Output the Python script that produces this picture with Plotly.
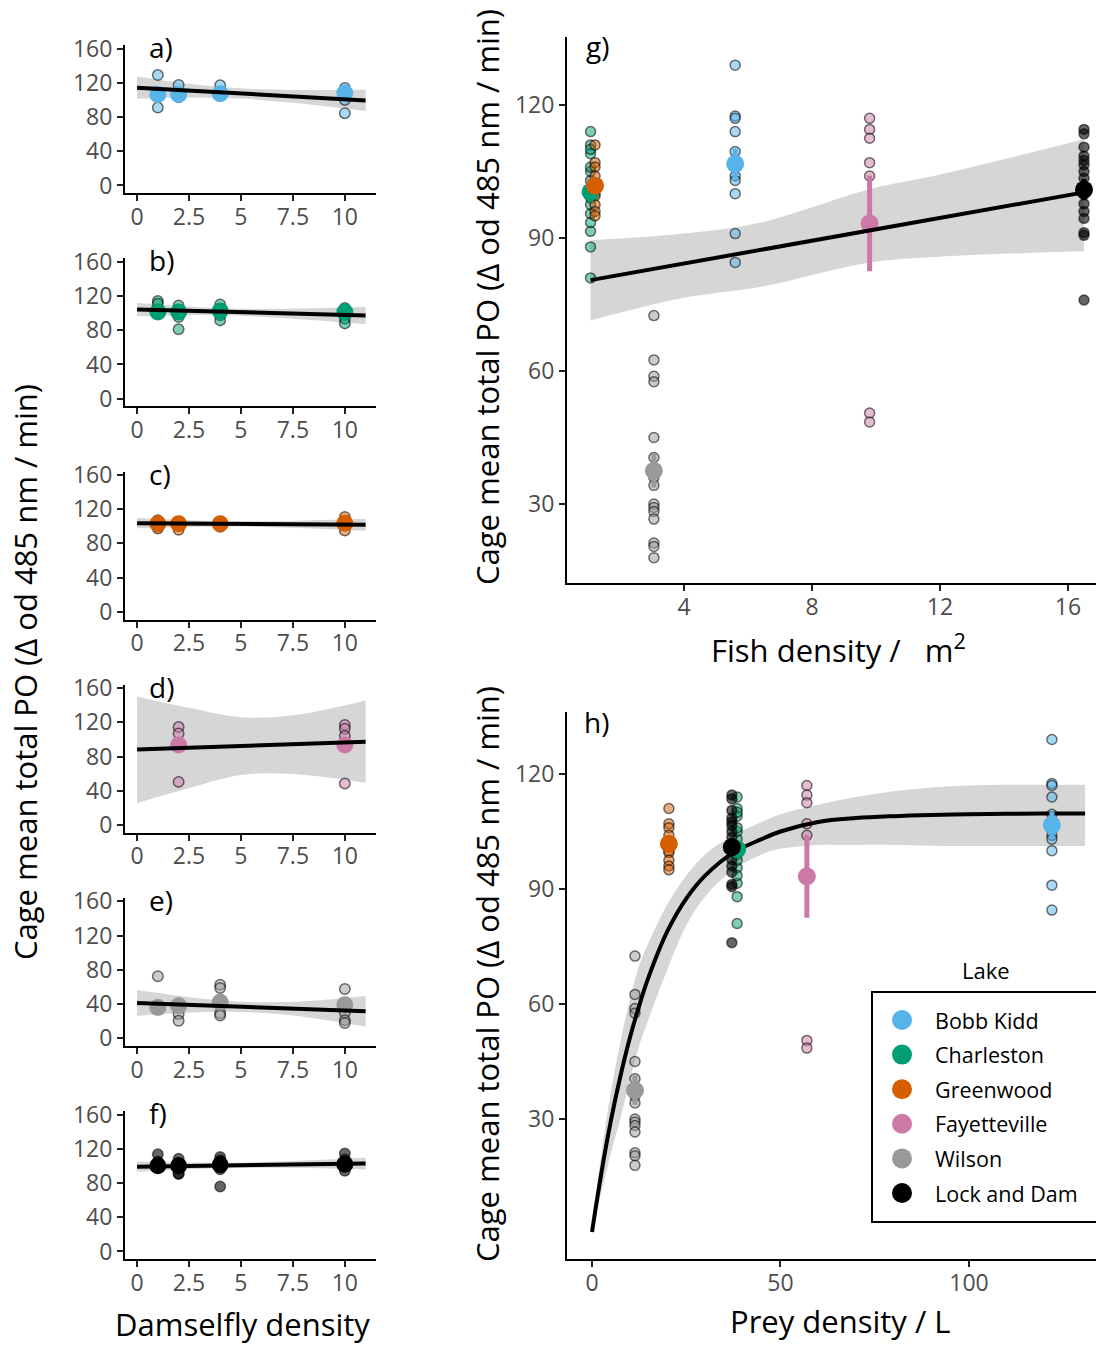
import plotly.graph_objects as go

W, H = 1096, 1346
FONT = "Open Sans"

# ---------------------------------------------------------------- data
LAKES = ["Bobb Kidd", "Charleston", "Greenwood", "Fayetteville", "Wilson", "Lock and Dam"]
LAKE_COLORS = ["#56B4E9", "#009E73", "#D55E00", "#CC79A7", "#999999", "#000000"]

# cage-level PO activity and damselfly density of each cage, per lake
bobb_po = [129, 117.5, 117, 114, 109.5, 106, 104, 103, 100, 91, 84.5]
bobb_dens = [1, 2, 4, 10, 4, 1, 2, 2, 10, 1, 10]
charleston_po = [114, 111, 103, 101, 109, 99, 95.5, 81, 110, 105, 97.5, 91.5, 106, 93.5, 88]
charleston_dens = [1, 1, 1, 1, 2, 2, 2, 2, 4, 4, 4, 4, 10, 10, 10]
greenwood_po = [111, 107, 106, 104, 102, 100, 99.5, 97.5, 96, 95]
greenwood_dens = [10, 1, 10, 4, 2, 1, 4, 1, 2, 10]
fayetteville_po = [117, 114.5, 112.5, 107, 104, 50.5, 48.5]
fayetteville_dens = [10, 2, 10, 2, 10, 2, 10]
wilson_po = [72.5, 62.5, 58.8, 57.6, 45, 40.5, 36, 34.2, 30, 29.2, 28.3, 26.6, 21.2, 20.4, 17.9]
wilson_dens = [1, 4, 4, 10, 4, 2, 1, 1, 10, 4, 2, 4, 10, 2, 10]
lockdam_po = [114.5, 113.5, 110.5, 108.5, 107.5, 106.5, 105, 103.5, 101, 99.8, 97.7, 96, 94.4, 91.2, 90.6, 76]
lockdam_dens = [10, 1, 4, 2, 10, 4, 1, 2, 1, 10, 1, 4, 10, 2, 2, 4]

CAGE_PO = [bobb_po, charleston_po, greenwood_po, fayetteville_po, wilson_po, lockdam_po]
CAGE_DENS = [bobb_dens, charleston_dens, greenwood_dens, fayetteville_dens, wilson_dens, lockdam_dens]

# lake-level predictors and summaries
FISH_DENSITY = [5.6, 1.08, 1.22, 9.8, 3.06, 16.5]
PREY_DENSITY = [122, 38.5, 20.4, 57.0, 11.4, 37.1]
LAKE_MEAN = [106.7, 100.4, 101.8, 93.3, 37.5, 100.9]
LAKE_SE = [3.5, 2.2, 1.6, 10.8, 3.8, 2.4]

# damselfly-density panels: treatment means per lake
DENS_LEVELS = [[1, 2, 4, 10], [1, 2, 4, 10], [1, 2, 4, 10], [2, 10], [1, 2, 4, 10], [1, 2, 4, 10]]
DENS_MEANS = [
    [106.4, 106.4, 107.2, 108.0],
    [101.4, 101.4, 102.6, 101.4],
    [102.9, 102.9, 102.9, 103.7],
    [93.7, 93.7],
    [36.1, 38.1, 42.0, 39.3],
    [100.2, 100.2, 101.3, 102.0],
]
# linear fits (x = 0 .. 11) with confidence bands
FIT_X = [0, 11]
FIT_Y = [[114.3, 99.4], [104.2, 97.2], [103.7, 101.7], [88.2, 97.5], [41.3, 31.5], [99.1, 102.9]]
BAND_X = [0, 2.5, 5, 7.5, 11]
BAND_LO = [
    [101.3, 102.9, 101.5, 96.6, 86.9],
    [96.2, 97.6, 97.0, 93.4, 87.2],
    [97.7, 99.2, 99.8, 98.3, 94.7],
    [25.8, 43.0, 58.4, 59.7, 49.5],
    [26.3, 30.1, 30.8, 26.6, 13.5],
    [93.1, 96.0, 97.8, 97.7, 95.9],
]
BAND_HI = [
    [127.3, 118.9, 113.5, 111.6, 111.9],
    [112.2, 107.6, 105.0, 105.4, 107.2],
    [109.7, 107.2, 105.8, 106.3, 108.7],
    [150.3, 137.0, 126.0, 128.3, 145.7],
    [56.3, 48.1, 42.8, 42.6, 49.5],
    [105.1, 104.0, 103.8, 105.7, 109.9],
]
PANEL_TAGS = ["a)", "b)", "c)", "d)", "e)", "f)"]

# fish density fit
FISH_FIT_X = [1.08, 16.5]
FISH_FIT_Y = [80.5, 100.3]
FISH_BAND_X = [1.08, 4, 6.4, 9.8, 12, 16.5]
FISH_BAND_LO = [71.4, 76.5, 79.0, 84.5, 85.8, 87.0]
FISH_BAND_HI = [89.5, 91.0, 93.5, 101.0, 104.3, 112.3]

# prey density saturating fit
PREY_FIT_X = [0, 2.5, 5, 7.5, 10, 12.5, 15, 20, 25, 30, 37.5, 45, 50, 60, 70, 80, 90, 100, 110, 120, 130.8]
PREY_FIT_Y = [0.5, 16, 29.5, 41, 51, 59.5, 67, 79, 87.5, 93.5, 99.5, 103, 105, 107.5, 108.5, 109, 109.3, 109.5, 109.6, 109.7, 109.7]
PREY_BAND_LO = [0, 11, 21, 30, 40, 49, 56, 69, 80.5, 88, 95, 99, 100.5, 101.5, 101.5, 101.5, 101.3, 101.2, 101.2, 101.2, 101.2]
PREY_BAND_HI = [1, 21, 37, 50, 61, 70, 76, 86, 93.5, 99, 104, 107.5, 109.5, 112, 114, 115.5, 116.5, 117, 117.2, 117.2, 117.2]

Y_TITLE = "Cage mean total PO (Δ od 485 nm / min)"

# ---------------------------------------------------------------- helpers
def fx(px):
    return px / W


def fy(py):
    return 1 - py / H


def rgba(hex_color, a):
    h = hex_color.lstrip("#")
    r, g, b = int(h[0:2], 16), int(h[2:4], 16), int(h[4:6], 16)
    return f"rgba({r},{g},{b},{a})"


BAND_FILL = "rgba(153,153,153,0.4)"
TICK_FONT = dict(family=FONT, size=23, color="#4d4d4d")
TITLE_SIZE = 31


def axis_style(**kw):
    base = dict(
        showline=True, linecolor="black", linewidth=2,
        ticks="outside", ticklen=6, tickwidth=2, tickcolor="#222",
        tickfont=TICK_FONT, showgrid=False, zeroline=False, fixedrange=True,
        automargin=False,
    )
    base.update(kw)
    return base


fig = go.Figure()
layout = {}
annotations = []


def add_band(xs, lo, hi, xa, ya, smooth=True):
    shape = "spline" if smooth else "linear"
    fig.add_trace(go.Scatter(x=xs, y=lo, mode="lines", line=dict(width=0, shape=shape),
                             xaxis=xa, yaxis=ya, showlegend=False, hoverinfo="skip"))
    fig.add_trace(go.Scatter(x=xs, y=hi, mode="lines", line=dict(width=0, shape=shape),
                             fill="tonexty", fillcolor=BAND_FILL,
                             xaxis=xa, yaxis=ya, showlegend=False, hoverinfo="skip"))


def cage_marker(color, size):
    alpha = 0.6 if color == "#000000" else 0.5
    return dict(size=size, color=rgba(color, alpha), line=dict(color="rgba(0,0,0,0.55)", width=1.5))


# ---------------------------------------------------------------- damselfly panels a-f
LEFT_X0, LEFT_X1 = 125, 376
for i in range(6):
    n = i + 1
    xa, ya = f"x{n}", f"y{n}"
    zero_px = 185.5 + 213.2 * i
    ppu = 0.856
    top_px = zero_px - 164 * ppu
    bot_px = zero_px + 9 * ppu
    layout[f"xaxis{n}"] = axis_style(
        domain=[fx(LEFT_X0), fx(LEFT_X1)], range=[-0.58, 11.5], anchor=ya,
        tickvals=[0, 2.5, 5, 7.5, 10], ticktext=["0", "2.5", "5", "7.5", "10"],
        ticklabelstandoff=-4,
    )
    layout[f"yaxis{n}"] = axis_style(
        domain=[fy(bot_px), fy(top_px)], range=[-9, 164], anchor=xa,
        tickvals=[0, 40, 80, 120, 160],
    )
    color = LAKE_COLORS[i]
    add_band(BAND_X, BAND_LO[i], BAND_HI[i], xa, ya)
    fig.add_trace(go.Scatter(x=CAGE_DENS[i], y=CAGE_PO[i], mode="markers",
                             marker=cage_marker(color, 10.5), xaxis=xa, yaxis=ya,
                             showlegend=False))
    fig.add_trace(go.Scatter(x=DENS_LEVELS[i], y=DENS_MEANS[i], mode="markers",
                             marker=dict(size=17, color=color), xaxis=xa, yaxis=ya,
                             showlegend=False))
    fig.add_trace(go.Scatter(x=FIT_X, y=FIT_Y[i], mode="lines",
                             line=dict(color="black", width=4), xaxis=xa, yaxis=ya,
                             showlegend=False))
    annotations.append(dict(text=PANEL_TAGS[i], x=fx(147), y=fy(top_px + 2), xref="paper", yref="paper",
                            xanchor="left", yanchor="middle", showarrow=False,
                            font=dict(family=FONT, size=28, color="black")))

# ---------------------------------------------------------------- g) fish density
layout["xaxis7"] = axis_style(domain=[fx(567), fx(1096)], range=[0.344, 16.875], anchor="y7",
                              tickvals=[4, 8, 12, 16], ticklabelstandoff=-4)
layout["yaxis7"] = axis_style(domain=[fy(582.9), fy(37.2)], range=[12.2, 135.3], anchor="x7",
                              tickvals=[30, 60, 90, 120])
add_band(FISH_BAND_X, FISH_BAND_LO, FISH_BAND_HI, "x7", "y7")
for k, lake in enumerate(LAKES):
    fig.add_trace(go.Scatter(x=[FISH_DENSITY[k]] * len(CAGE_PO[k]), y=CAGE_PO[k], mode="markers",
                             marker=cage_marker(LAKE_COLORS[k], 10), xaxis="x7", yaxis="y7",
                             showlegend=False))
for k, lake in enumerate(LAKES):
    fig.add_trace(go.Scatter(x=[FISH_DENSITY[k]], y=[LAKE_MEAN[k]], mode="markers",
                             marker=dict(size=18, color=LAKE_COLORS[k]),
                             error_y=dict(type="data", array=[LAKE_SE[k]], color=LAKE_COLORS[k],
                                          thickness=5, width=0),
                             xaxis="x7", yaxis="y7", showlegend=False))
fig.add_trace(go.Scatter(x=FISH_FIT_X, y=FISH_FIT_Y, mode="lines", line=dict(color="black", width=4),
                         xaxis="x7", yaxis="y7", showlegend=False))

# ---------------------------------------------------------------- h) prey density
layout["xaxis8"] = axis_style(domain=[fx(567), fx(1096)], range=[-6.63, 133.7], anchor="y8",
                              tickvals=[0, 50, 100], ticklabelstandoff=-4)
layout["yaxis8"] = axis_style(domain=[fy(1258.9), fy(711.9)], range=[-6.5, 136.2], anchor="x8",
                              tickvals=[30, 60, 90, 120])
add_band(PREY_FIT_X, PREY_BAND_LO, PREY_BAND_HI, "x8", "y8")
for k, lake in enumerate(LAKES):
    fig.add_trace(go.Scatter(x=[PREY_DENSITY[k]] * len(CAGE_PO[k]), y=CAGE_PO[k], mode="markers",
                             marker=cage_marker(LAKE_COLORS[k], 10), xaxis="x8", yaxis="y8",
                             showlegend=False))
fig.add_trace(go.Scatter(x=PREY_FIT_X, y=PREY_FIT_Y, mode="lines",
                         line=dict(color="black", width=4, shape="spline"),
                         xaxis="x8", yaxis="y8", showlegend=False))
for k, lake in enumerate(LAKES):
    fig.add_trace(go.Scatter(x=[PREY_DENSITY[k]], y=[LAKE_MEAN[k]], mode="markers",
                             marker=dict(size=18, color=LAKE_COLORS[k]),
                             error_y=dict(type="data", array=[LAKE_SE[k]], color=LAKE_COLORS[k],
                                          thickness=5, width=0),
                             xaxis="x8", yaxis="y8", showlegend=False))

# ---------------------------------------------------------------- legend (drawn on its own hidden axes)
LEG_LEFT, LEG_TOP, LEG_BOTTOM = 872, 992, 1222
layout["xaxis9"] = dict(domain=[fx(LEG_LEFT), 1.0], range=[LEG_LEFT, W], visible=False,
                        fixedrange=True, automargin=False)
layout["yaxis9"] = dict(domain=[fy(LEG_BOTTOM), fy(LEG_TOP)], range=[LEG_BOTTOM, LEG_TOP],
                        visible=False, fixedrange=True, automargin=False)
leg_y = [1020 + 34.6 * k for k in range(len(LAKES))]
fig.add_trace(go.Scatter(x=[902] * len(LAKES), y=leg_y, mode="markers",
                         marker=dict(size=20, color=LAKE_COLORS), xaxis="x9", yaxis="y9",
                         showlegend=False, hoverinfo="skip"))
for k, lake in enumerate(LAKES):
    annotations.append(dict(text=lake, x=933, y=leg_y[k], xref="x9", yref="y9",
                            xanchor="left", yanchor="middle", showarrow=False,
                            font=dict(family=FONT, size=21.5, color="black")))
annotations.append(dict(text="Lake", x=fx(986), y=fy(970), xref="paper", yref="paper",
                        xanchor="center", yanchor="middle", showarrow=False,
                        font=dict(family=FONT, size=22, color="black")))
shapes = [dict(type="rect", xref="paper", yref="paper", x0=fx(LEG_LEFT), x1=fx(1110),
               y0=fy(LEG_BOTTOM), y1=fy(LEG_TOP), line=dict(color="black", width=2))]

# ---------------------------------------------------------------- titles
def text(t, px, py, size=TITLE_SIZE, angle=0, anchor="center"):
    annotations.append(dict(text=t, x=fx(px), y=fy(py), xref="paper", yref="paper",
                            xanchor=anchor, yanchor="middle", showarrow=False, textangle=angle,
                            font=dict(family=FONT, size=size, color="black")))


text(Y_TITLE, 25, 672, angle=-90)
text(Y_TITLE, 487, 297, angle=-90)
text(Y_TITLE, 487, 974, angle=-90)
text("Damselfly density", 242, 1324)
text("Fish density /   m<sup>2</sup>", 838, 648)
text("Prey density / L", 840, 1321)
text("g)", 584, 46, size=28, anchor="left")
text("h)", 582, 722, size=28, anchor="left")

fig.update_layout(
    template="none",
    width=W, height=H, margin=dict(l=0, r=0, t=0, b=0, pad=0),
    paper_bgcolor="white", plot_bgcolor="rgba(0,0,0,0)",
    showlegend=False, annotations=annotations, shapes=shapes,
    font=dict(family=FONT),
    **layout,
)

fig.write_html("out.html")
